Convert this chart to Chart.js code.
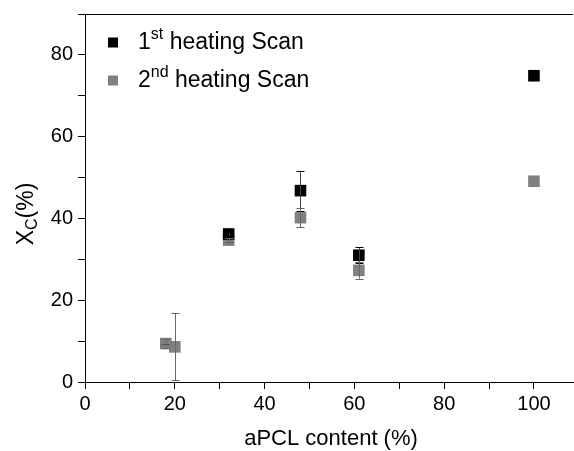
<!DOCTYPE html>
<html>
<head>
<meta charset="utf-8">
<script src="https://cdn.jsdelivr.net/npm/chart.js@4/dist/chart.umd.min.js"></script>
<style>
  html, body { margin: 0; padding: 0; background: #fff; }
  #wrap { width: 574px; height: 451px; position: relative; }
</style>
</head>
<body>
<div id="wrap"><canvas id="c" width="574" height="451"></canvas></div>
<script>
// ---- Data ----
const series1Label = ["1", "st", " heating Scan"];
const series2Label = ["2", "nd", " heating Scan"];
const xValues1 = [32, 48, 61, 100];
const yValues1 = [36.2, 46.8, 31.0, 74.9];
const yErr1 = [0.6, 4.9, 2.0, 0];
const xValues2 = [18, 20, 32, 48, 61, 100];
const yValues2 = [9.4, 8.6, 34.7, 40.2, 27.3, 49.1];
const yErr2 = [1.0, 8.2, 0.5, 2.3, 2.0, 0];
const xErr2 = [1.0, 0, 0, 0, 0, 0];
const xTickStep = 10;
const yTickStep = 10;
const xAxisTitle = "aPCL content (%)";
const yAxisTitle = ["X", "C", "(%)"];

const FONT = "'Liberation Sans', Arial, sans-serif";
const BLACK = "#000000";
const GRAY = "#808080";

function pts(xs, ys) { return xs.map((x, i) => ({ x: x, y: ys[i] })); }

const errorBars = {
  id: 'errorBars',
  afterDatasetsDraw(chart) {
    const ctx = chart.ctx;
    const xs = chart.scales.x, ys = chart.scales.y;
    const sets = [
      { x: xValues1, y: yValues1, ey: yErr1, ex: null, line: "#444", cap: BLACK },
      { x: xValues2, y: yValues2, ey: yErr2, ex: xErr2, line: "#666", cap: "#666" }
    ];
    ctx.save();
    ctx.lineWidth = 1;
    sets.forEach(s => {
      s.x.forEach((xv, i) => {
        const px = Math.round(xs.getPixelForValue(xv)) + 0.5;
        const e = s.ey[i];
        if (e > 0) {
          const t = ys.getPixelForValue(s.y[i] + e);
          const b = ys.getPixelForValue(s.y[i] - e);
          ctx.strokeStyle = s.line;
          ctx.beginPath(); ctx.moveTo(px, t); ctx.lineTo(px, b); ctx.stroke();
          ctx.strokeStyle = s.cap;
          ctx.beginPath();
          ctx.moveTo(px - 4, Math.round(t) + 0.5); ctx.lineTo(px + 4, Math.round(t) + 0.5);
          ctx.moveTo(px - 4, Math.round(b) + 0.5); ctx.lineTo(px + 4, Math.round(b) + 0.5);
          ctx.stroke();
        }
        if (s.ex && s.ex[i] > 0) {
          const py = Math.round(ys.getPixelForValue(s.y[i])) + 0.5;
          const l = xs.getPixelForValue(xv - s.ex[i]);
          const r = xs.getPixelForValue(xv + s.ex[i]);
          ctx.strokeStyle = "#555";
          ctx.beginPath(); ctx.moveTo(l, py); ctx.lineTo(r, py); ctx.stroke();
        }
      });
    });
    ctx.restore();
  }
};

const decorations = {
  id: 'decorations',
  afterDraw(chart) {
    const ctx = chart.ctx;
    const a = chart.chartArea;
    ctx.save();
    // top frame line
    ctx.strokeStyle = BLACK;
    ctx.lineWidth = 1;
    ctx.beginPath();
    ctx.moveTo(a.left, a.top + 0.5); ctx.lineTo(a.right, a.top + 0.5);
    ctx.stroke();

    // x axis title
    ctx.fillStyle = BLACK;
    ctx.font = "22px " + FONT;
    ctx.textAlign = "center";
    ctx.textBaseline = "alphabetic";
    ctx.fillText(xAxisTitle, 331, 445);

    // y axis title (rotated, with subscript)
    ctx.save();
    ctx.translate(33, 214);
    ctx.rotate(-Math.PI / 2);
    ctx.textAlign = "left";
    const big = "23px " + FONT, small = "16px " + FONT;
    ctx.font = big; const w1 = ctx.measureText(yAxisTitle[0]).width;
    ctx.font = small; const w2 = ctx.measureText(yAxisTitle[1]).width;
    ctx.font = big; const w3 = ctx.measureText(yAxisTitle[2]).width;
    let x0 = -(w1 + w2 + w3) / 2;
    ctx.font = big; ctx.fillText(yAxisTitle[0], x0, 0);
    ctx.font = small; ctx.fillText(yAxisTitle[1], x0 + w1, 4);
    ctx.font = big; ctx.fillText(yAxisTitle[2], x0 + w1 + w2, 0);
    ctx.restore();

    // legend
    const rows = [
      { lab: series1Label, color: BLACK, cy: 42.5, base: 49 },
      { lab: series2Label, color: GRAY, cy: 80.5, base: 86.5 }
    ];
    rows.forEach(r => {
      ctx.fillStyle = r.color;
      ctx.fillRect(108, r.cy - 5, 10, 10);
      ctx.fillStyle = BLACK;
      ctx.textAlign = "left";
      let x = 138; const base = r.base;
      ctx.font = "23px " + FONT;
      ctx.fillText(r.lab[0], x, base); x += ctx.measureText(r.lab[0]).width;
      ctx.font = "16px " + FONT;
      ctx.fillText(r.lab[1], x, base - 10); x += ctx.measureText(r.lab[1]).width;
      ctx.font = "23px " + FONT;
      ctx.fillText(r.lab[2], x, base);
    });
    ctx.restore();
  }
};

new Chart(document.getElementById('c'), {
  type: 'scatter',
  data: {
    datasets: [
      { label: '1st heating Scan', data: pts(xValues1, yValues1), backgroundColor: BLACK, borderColor: BLACK,
        pointStyle: 'rect', pointRadius: 8.2, pointHoverRadius: 8.2, borderWidth: 0 },
      { label: '2nd heating Scan', data: pts(xValues2, yValues2), backgroundColor: GRAY, borderColor: GRAY,
        pointStyle: 'rect', pointRadius: 8.2, pointHoverRadius: 8.2, borderWidth: 0 }
    ]
  },
  options: {
    responsive: false,
    animation: false,
    devicePixelRatio: 1,
    layout: { autoPadding: false, padding: { top: 14, right: 1, left: 0, bottom: 0 } },
    plugins: { legend: { display: false }, tooltip: { enabled: false } },
    scales: {
      x: {
        type: 'linear', min: 0, max: 108.7,
        afterFit(s) { s.height = 69; s.paddingLeft = 0; s.paddingRight = 0; },
        border: { display: true, color: BLACK, width: 1 },
        grid: { display: true, drawOnChartArea: false, drawTicks: true, tickLength: 7, color: BLACK },
        ticks: {
          stepSize: xTickStep, includeBounds: false, color: BLACK, padding: 3,
          font: { family: FONT, size: 20 }, maxRotation: 0, autoSkip: false,
          callback: v => (v % 20 === 0 ? String(v) : '')
        }
      },
      y: {
        type: 'linear', min: 0, max: 90,
        afterFit(s) { s.width = 85; s.paddingTop = 0; s.paddingBottom = 0; },
        border: { display: true, color: BLACK, width: 1 },
        grid: { display: true, drawOnChartArea: false, drawTicks: true, tickLength: 7, color: BLACK },
        ticks: {
          stepSize: yTickStep, includeBounds: false, color: BLACK, padding: 5,
          font: { family: FONT, size: 20 }, autoSkip: false,
          callback: v => (v % 20 === 0 ? String(v) : '')
        }
      }
    }
  },
  plugins: [errorBars, decorations]
});
</script>
</body>
</html>
